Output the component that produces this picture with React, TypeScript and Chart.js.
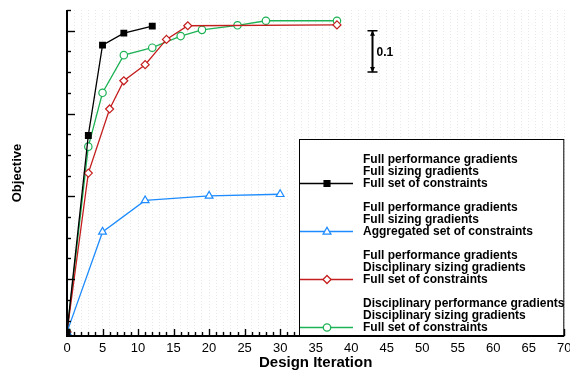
import React, { useEffect, useRef } from 'react';
import { Chart, registerables } from 'chart.js';

Chart.register(...registerables);

// ---- data ----
const fullIter = [0, 3, 5, 8, 12];
const fullObj = [0.072, 0.547, 0.765, 0.794, 0.811];

const aggIter = [0, 5, 11, 20, 30];
const aggObj = [0.072, 0.314, 0.39, 0.401, 0.405];

const discSizingIter = [0, 3, 6, 8, 11, 14, 17, 38];
const discSizingObj = [0.072, 0.456, 0.611, 0.679, 0.718, 0.779, 0.812, 0.814];

const discAllIter = [0, 3, 5, 8, 12, 16, 19, 24, 28, 38];
const discAllObj = [0.072, 0.52, 0.65, 0.741, 0.759, 0.787, 0.802, 0.813, 0.824, 0.824];

const seriesNames = [
  ['Full performance gradients', 'Full sizing gradients', 'Full set of constraints'],
  ['Full performance gradients', 'Full sizing gradients', 'Aggregated set of constraints'],
  ['Full performance gradients', 'Disciplinary sizing gradients', 'Full set of constraints'],
  ['Disciplinary performance gradients', 'Disciplinary sizing gradients', 'Full set of constraints'],
];

const xTickLabels = ['0', '5', '10', '15', '20', '25', '30', '35', '40', '45', '50', '55', '60', '65', '70'];
const xTitle = 'Design Iteration';
const yTitle = 'Objective';
const xMin = 0;
const xMax = 70;
const yMin = 0.0626;
const yMax = 0.85;
const yMinorStep = 0.05;
const yMajorStep = 0.2;

const scaleBarX = 43;
const scaleBarTop = 0.8;
const scaleBarSpan = 0.1;
const scaleBarLabel = '0.1';

// ---- styles ----
const FONT = '"Liberation Sans", Arial, Helvetica, sans-serif';
const colors = ['#000000', '#1e8cff', '#c41e1e', '#1db255'];
const styles = ['rect', 'triangle', 'rectRot', 'circle'];
const radii = [4, 4.5, 4, 3.7];

function toPoints(xs: number[], ys: number[]) {
  return xs.map((x, i) => ({ x, y: ys[i] }));
}

function drawMarker(ctx: CanvasRenderingContext2D, style: string, x: number, y: number, color: string) {
  ctx.save();
  ctx.strokeStyle = color;
  ctx.fillStyle = style === 'rect' ? color : '#ffffff';
  ctx.lineWidth = 1.3;
  ctx.beginPath();
  if (style === 'rect') {
    ctx.rect(x - 2.9, y - 2.9, 5.8, 5.8);
  } else if (style === 'triangle') {
    ctx.moveTo(x, y - 4.2);
    ctx.lineTo(x + 3.9, y + 2.6);
    ctx.lineTo(x - 3.9, y + 2.6);
    ctx.closePath();
  } else if (style === 'rectRot') {
    ctx.moveTo(x, y - 4);
    ctx.lineTo(x + 4, y);
    ctx.lineTo(x, y + 4);
    ctx.lineTo(x - 4, y);
    ctx.closePath();
  } else {
    ctx.arc(x, y, 3.7, 0, Math.PI * 2);
  }
  ctx.fill();
  ctx.stroke();
  ctx.restore();
}

const decorPlugin = {
  id: 'decor',
  afterDatasetsDraw(chart: any) {
    const { ctx, chartArea } = chart;
    const xs = chart.scales.x;
    const ys = chart.scales.y;
    const { left, right, top, bottom } = chartArea;
    ctx.save();
    ctx.strokeStyle = '#000';
    // ticks on x axis (inward)
    ctx.lineWidth = 1.4;
    for (let v = xMin; v <= xMax; v++) {
      const px = Math.round(xs.getPixelForValue(v)) + 0.5;
      const len = v % 5 === 0 ? 7 : 4;
      ctx.beginPath();
      ctx.moveTo(px, bottom);
      ctx.lineTo(px, bottom - len);
      ctx.stroke();
    }
    // ticks on y axis (inward)
    const n = Math.floor((yMax - yMin) / yMinorStep + 1e-6);
    for (let k = 0; k <= n; k++) {
      const v = yMax - k * yMinorStep;
      const py = Math.round(ys.getPixelForValue(v)) + 0.5;
      const r = Math.abs(v / yMajorStep - Math.round(v / yMajorStep));
      const len = r < 1e-6 ? 8 : 4;
      ctx.beginPath();
      ctx.moveTo(left, py);
      ctx.lineTo(left + len, py);
      ctx.stroke();
    }
    // axis lines
    ctx.lineWidth = 2;
    ctx.beginPath();
    ctx.moveTo(left, top);
    ctx.lineTo(left, bottom + 1);
    ctx.stroke();
    ctx.beginPath();
    ctx.moveTo(left - 1, bottom);
    ctx.lineTo(right, bottom);
    ctx.stroke();

    // scale bar
    const bx = Math.round(xs.getPixelForValue(scaleBarX)) + 0.5;
    const bt = ys.getPixelForValue(scaleBarTop);
    const bb = ys.getPixelForValue(scaleBarTop - scaleBarSpan);
    ctx.lineWidth = 2;
    ctx.beginPath();
    ctx.moveTo(bx, bt);
    ctx.lineTo(bx, bb);
    ctx.stroke();
    ctx.lineWidth = 1.5;
    ctx.beginPath();
    ctx.moveTo(bx - 5, bt);
    ctx.lineTo(bx + 5, bt);
    ctx.moveTo(bx - 5, bb);
    ctx.lineTo(bx + 5, bb);
    ctx.stroke();
    ctx.fillStyle = '#000';
    ctx.beginPath();
    ctx.moveTo(bx, bt);
    ctx.lineTo(bx - 2.5, bt + 5);
    ctx.lineTo(bx + 2.5, bt + 5);
    ctx.closePath();
    ctx.moveTo(bx, bb);
    ctx.lineTo(bx - 2.5, bb - 5);
    ctx.lineTo(bx + 2.5, bb - 5);
    ctx.closePath();
    ctx.fill();
    ctx.font = 'bold 12px ' + FONT;
    ctx.textBaseline = 'middle';
    ctx.textAlign = 'left';
    ctx.fillText(scaleBarLabel, bx + 4, (bt + bb) / 2 + 1);
    ctx.restore();
  },
  afterDraw(chart: any) {
    const { ctx, chartArea } = chart;
    const boxL = 299;
    const boxT = 139;
    const boxR = chartArea.right - 1;
    const boxB = chartArea.bottom - 1;
    ctx.save();
    ctx.fillStyle = '#fff';
    ctx.fillRect(boxL, boxT, boxR - boxL, boxB - boxT);
    ctx.strokeStyle = '#000';
    ctx.lineWidth = 1;
    ctx.strokeRect(boxL + 0.5, boxT + 0.5, boxR - boxL, boxB - boxT);
    ctx.font = 'bold 12px ' + FONT;
    ctx.textBaseline = 'middle';
    ctx.textAlign = 'left';
    seriesNames.forEach((lines, i) => {
      const lastY = boxT + 44 + 48 * i;
      ctx.strokeStyle = colors[i];
      ctx.lineWidth = 1.5;
      ctx.beginPath();
      ctx.moveTo(boxL + 1, lastY + 0.5);
      ctx.lineTo(boxL + 54, lastY + 0.5);
      ctx.stroke();
      drawMarker(ctx, styles[i], boxL + 28, lastY + 0.5, colors[i]);
      ctx.fillStyle = '#000';
      lines.forEach((t, j) => {
        ctx.fillText(t, boxL + 64, lastY - 12 * (lines.length - 1 - j) + 1);
      });
    });
    ctx.restore();
  },
};

export default function App() {
  const ref = useRef<HTMLCanvasElement>(null);
  useEffect(() => {
    document.body.style.margin = '0';
    const canvas = ref.current;
    if (!canvas) return;
    const mk = (i: number, label: string, data: any[]) => ({
      label,
      data,
      borderColor: colors[i],
      backgroundColor: i === 0 ? colors[i] : '#ffffff',
      borderWidth: 1.3,
      pointStyle: styles[i],
      pointRadius: radii[i],
      pointBorderWidth: 1.2,
      pointBorderColor: colors[i],
      pointBackgroundColor: i === 0 ? colors[i] : '#ffffff',
      tension: 0,
      fill: false,
    });
    const chart = new Chart(canvas, {
      type: 'line',
      data: {
        datasets: [
          mk(0, seriesNames[0].join(' '), toPoints(fullIter, fullObj)),
          mk(1, seriesNames[1].join(' '), toPoints(aggIter, aggObj)),
          mk(2, seriesNames[2].join(' '), toPoints(discSizingIter, discSizingObj)),
          mk(3, seriesNames[3].join(' '), toPoints(discAllIter, discAllObj)),
        ],
      },
      options: {
        animation: false,
        responsive: false,
        devicePixelRatio: 1,
        layout: { padding: { left: 0, right: 4, top: 10, bottom: 0 } },
        plugins: { legend: { display: false }, tooltip: { enabled: false } },
        scales: {
          x: {
            type: 'linear',
            min: xMin,
            max: xMax,
            afterFit: (s: any) => {
              s.height = 36;
              s.paddingLeft = 0;
              s.paddingRight = 0;
            },
            ticks: {
              stepSize: 1,
              maxTicksLimit: 200,
              autoSkip: false,
              maxRotation: 0,
              padding: 5,
              color: '#000',
              font: { family: FONT, size: 13 },
              callback: (v: any) => (xTickLabels.includes(String(v)) ? String(v) : ''),
            },
            grid: { display: true, drawTicks: false, color: '#e8e8e8', lineWidth: 1 },
            border: { display: false, dash: [1, 2] },
            title: {
              display: true,
              text: xTitle,
              color: '#000',
              font: { family: FONT, size: 15, weight: 'bold' },
              padding: { top: 0, bottom: 0 },
            },
          },
          y: {
            type: 'linear',
            min: yMin,
            max: yMax,
            afterFit: (s: any) => {
              s.width = 67;
              s.paddingTop = 0;
              s.paddingBottom = 0;
            },
            ticks: { display: false },
            grid: { display: false },
            border: { display: false },
            title: {
              display: true,
              text: yTitle,
              color: '#000',
              font: { family: FONT, size: 13, weight: 'bold' },
              padding: { top: 10, bottom: 0 },
            },
          },
        },
      } as any,
      plugins: [decorPlugin],
    });
    return () => chart.destroy();
  }, []);
  return (
    <div style={{ position: 'absolute', left: 0, top: 0, width: 570, height: 372 }}>
      <canvas ref={ref} width={570} height={372} style={{ display: 'block' }} />
    </div>
  );
}
